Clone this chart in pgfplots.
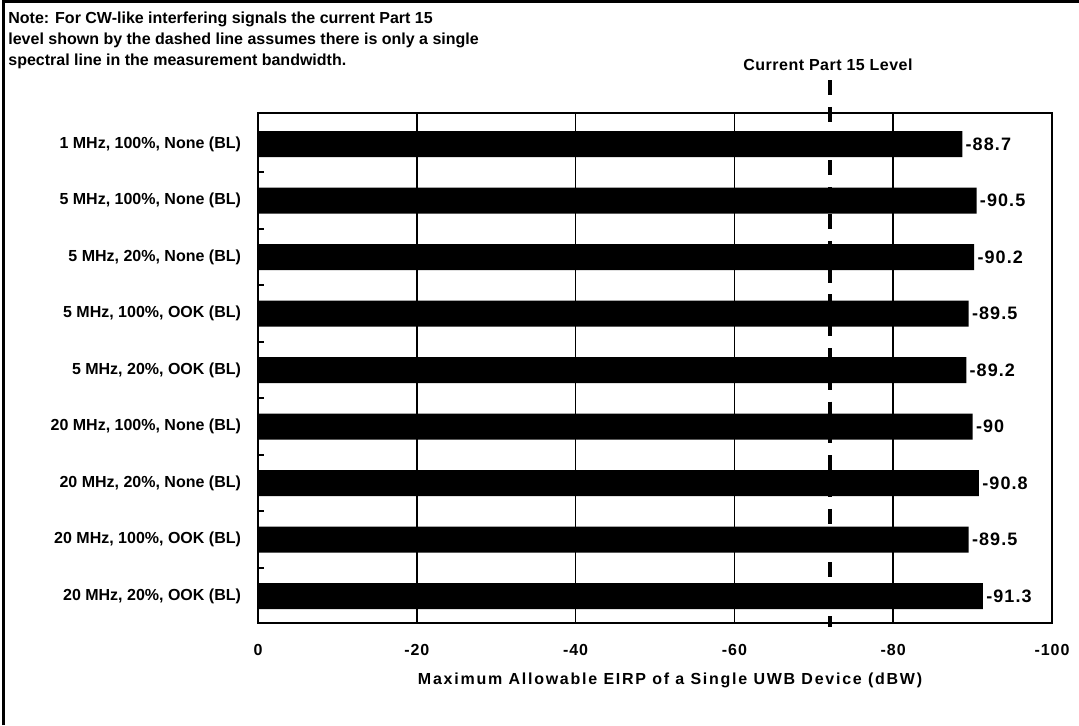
\documentclass[border=0pt]{standalone}
\usepackage{pgfplots}
\pgfplotsset{compat=1.18}
\usepackage{fontspec}
\setmainfont{Liberation Sans}
\newcommand{\lbl}{\bfseries\fontsize{8}{9.6}\selectfont}
\newcommand{\lblsp}[1]{\bfseries\fontsize{8}{9.6}\selectfont\addfontfeatures{LetterSpace=#1}}
\begin{document}
\begin{tikzpicture}
\useasboundingbox (0,0) rectangle (539.5pt,362.5pt);
\draw[line width=1.3pt] (1.8pt,0) -- (1.8pt,361.6pt) -- (539.5pt,361.6pt);
\node[anchor=north west, inner sep=0pt, align=left, font=\bfseries\fontsize{8}{10.5}\selectfont] at (4pt,356.5pt)
 {Note: For CW-like interfering signals the current Part 15\\
  level shown by the dashed line assumes there is only a single\\
  spectral line in the measurement bandwidth.};
\begin{axis}[
  at={(129pt,51pt)}, anchor=south west,
  scale only axis, width=397pt, height=255pt,
  xmin=-100, xmax=0, x dir=reverse,
  ymin=-0.549, ymax=8.478, y dir=reverse,
  clip=false,
  axis line style={line width=1.2pt},
  /pgf/number format/assume math mode=true,
  ticklabel style={font=\lbl},
  xtick={0,-20,-40,-60,-80,-100},
  xticklabel style={yshift=-7pt, font=\lblsp{6}},
  xmajorgrids, grid style={black, line width=0.9pt},
  major x tick style={draw=none},
  ytick={0,...,8},
  yticklabels={1 MHz{,} 100\%{,} None (BL),
               5 MHz{,} 100\%{,} None (BL),
               5 MHz{,} 20\%{,} None (BL),
               5 MHz{,} 100\%{,} OOK (BL),
               5 MHz{,} 20\%{,} OOK (BL),
               20 MHz{,} 100\%{,} None (BL),
               20 MHz{,} 20\%{,} None (BL),
               20 MHz{,} 100\%{,} OOK (BL),
               20 MHz{,} 20\%{,} OOK (BL)},
  yticklabel style={xshift=-5pt},
  major y tick style={draw=none},
  minor ytick={0.5,1.5,2.5,3.5,4.5,5.5,6.5,7.5},
  minor y tick style={black, line width=0.8pt},
  minor tick length=3pt,
  tick align=inside,
  ytick pos=left,
  xlabel={Maximum Allowable EIRP of a Single UWB Device (dBW)},
  xlabel style={at={(axis description cs:0.519,0)}, anchor=center, yshift=-28.5pt, font=\lblsp{11}},
]
% reference level (dashed)
\addplot[black, line width=2pt, dash pattern=on 7.5pt off 5.9pt, forget plot]
  coordinates {(-72,-1.133) (-72,8.549)};
\addplot[xbar, bar width=13pt, bar shift=0pt, fill=black, draw=none,
  point meta=x, nodes near coords,
  every node near coord/.append style={anchor=west, inner sep=1.5pt,
    font=\bfseries\fontsize{9}{10.8}\selectfont\addfontfeatures{LetterSpace=6},
    /pgf/number format/fixed, /pgf/number format/precision=1}]
  coordinates {
  (-88.7,0) (-90.5,1) (-90.2,2) (-89.5,3) (-89.2,4)
  (-90,5) (-90.8,6) (-89.5,7) (-91.3,8)
  };
\end{axis}
\node[anchor=base, inner sep=0pt, font=\lblsp{3}] at (414pt,327.25pt) {Current Part 15 Level};
\end{tikzpicture}
\end{document}
